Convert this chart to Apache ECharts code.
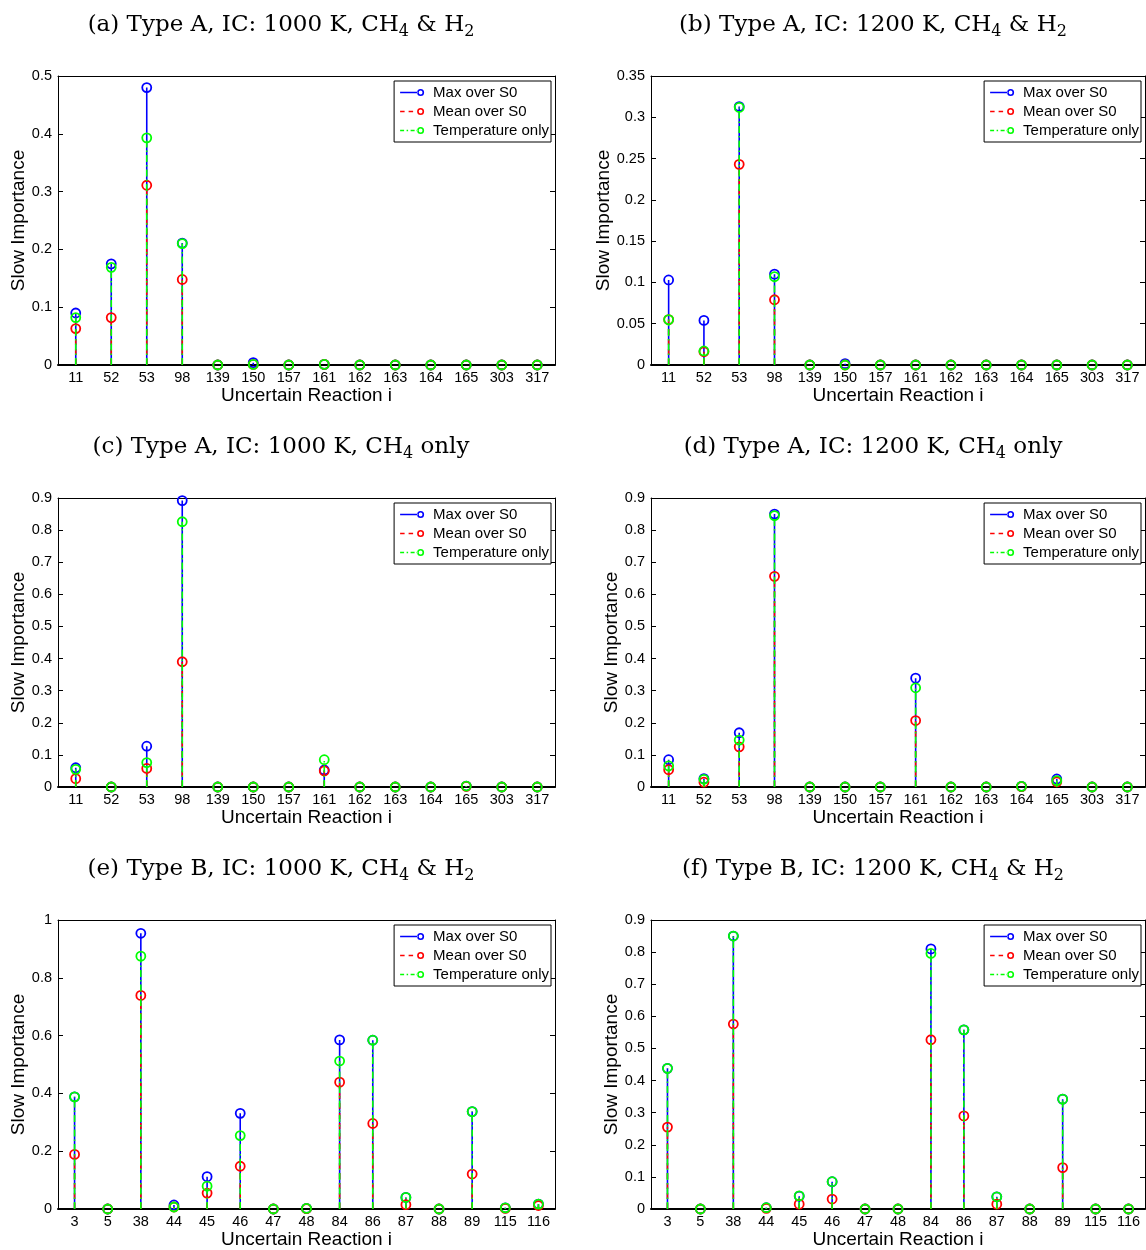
<!DOCTYPE html>
<html><head><meta charset="utf-8">
<script src="https://cdn.jsdelivr.net/npm/echarts@6/dist/echarts.min.js"></script>
<style>html,body{margin:0;padding:0;background:#fff}#c{width:1146px;height:1250px}</style>
</head><body><div id="c"></div><script>
// ---- categories ----
const catsA = ['11','52','53','98','139','150','157','161','162','163','164','165','303','317'];
const catsB = ['3','5','38','44','45','46','47','48','84','86','87','88','89','115','116'];

// ---- series values ----
// (a) Type A, 1000 K, CH4 & H2
const aMax  = [0.090,0.175,0.480,0.211,0,0.004,0,0.001,0,0,0,0,0,0];
const aMean = [0.063,0.082,0.311,0.148,0,0.001,0,0.001,0,0,0,0,0,0];
const aTemp = [0.082,0.169,0.393,0.210,0,0.001,0,0.001,0,0,0,0,0,0];
// (b) Type A, 1200 K, CH4 & H2
const bMax  = [0.103,0.054,0.313,0.110,0,0.0016,0,0,0,0,0,0,0,0];
const bMean = [0.055,0.016,0.243,0.079,0,0,0,0,0,0,0,0,0,0];
const bTemp = [0.055,0.017,0.312,0.107,0,0,0,0,0,0,0,0,0,0];
// (c) Type A, 1000 K, CH4 only
const cMax  = [0.060,0,0.127,0.892,0,0,0,0.053,0,0,0,0.003,0,0];
const cMean = [0.026,0,0.058,0.390,0,0,0,0.050,0,0,0,0.002,0,0];
const cTemp = [0.055,0,0.076,0.826,0,0,0,0.085,0,0,0,0.003,0,0];
// (d) Type A, 1200 K, CH4 only
const dMax  = [0.085,0.026,0.169,0.850,0,0,0,0.339,0,0,0.002,0.025,0,0];
const dMean = [0.054,0.015,0.125,0.656,0,0,0,0.207,0,0,0.001,0.016,0,0];
const dTemp = [0.066,0.024,0.146,0.845,0,0,0,0.309,0,0,0.002,0.020,0,0];
// (e) Type B, 1000 K, CH4 & H2
const eMax  = [0.388,0,0.954,0.014,0.112,0.331,0,0.002,0.585,0.584,0.040,0,0.337,0.004,0.017];
const eMean = [0.189,0,0.739,0.007,0.055,0.148,0,0.001,0.439,0.296,0.015,0,0.121,0.002,0.012];
const eTemp = [0.388,0,0.875,0.007,0.079,0.254,0,0.002,0.512,0.584,0.040,0,0.337,0.004,0.017];
// (f) Type B, 1200 K, CH4 & H2
const fMax  = [0.438,0,0.850,0.004,0.040,0.085,0,0,0.810,0.558,0.038,0,0.342,0,0];
const fMean = [0.255,0,0.576,0.002,0.015,0.031,0,0,0.527,0.290,0.015,0,0.129,0,0];
const fTemp = [0.438,0,0.850,0.004,0.041,0.085,0,0,0.796,0.558,0.038,0,0.342,0,0];

// ---- axis ranges ----
const yMaxes = [0.5, 0.35, 0.9, 0.9, 1.0, 0.9];
const yIntervals = [0.1, 0.05, 0.1, 0.1, 0.2, 0.1];

const titles = [
  '(a) Type A, IC: 1000 K, CH{s|4} & H{s|2}',
  '(b) Type A, IC: 1200 K, CH{s|4} & H{s|2}',
  '(c) Type A, IC: 1000 K, CH{s|4} only',
  '(d) Type A, IC: 1200 K, CH{s|4} only',
  '(e) Type B, IC: 1000 K, CH{s|4} & H{s|2}',
  '(f) Type B, IC: 1200 K, CH{s|4} & H{s|2}'
];
const seriesNames = ['Max over S0','Mean over S0','Temperature only'];

const panels = [
  {cats: catsA, vals: [aMax,aMean,aTemp]},
  {cats: catsA, vals: [bMax,bMean,bTemp]},
  {cats: catsA, vals: [cMax,cMean,cTemp]},
  {cats: catsA, vals: [dMax,dMean,dTemp]},
  {cats: catsB, vals: [eMax,eMean,eTemp]},
  {cats: catsB, vals: [fMax,fMean,fTemp]}
];

// ---- layout / style ----
const colors = ['#0000ff','#ff0000','#00ff00'];
const dashes = ['solid',[6,4],[7,3,1.5,3]];
const colLeft = [58, 651];
const colWidth = [497, 494];
const rowTop = [76, 498, 920];
const plotH = 289;
const titleX = [281, 873];
const titleY = [25, 447, 869];
const sans = 'Liberation Sans';

// legend icons (MATLAB-like: line sample with hollow marker at its end), 24 x 7 box
const ring = 'M24 3.5A3.5 3.5 0 1 0 17 3.5A3.5 3.5 0 1 0 24 3.5Z M22.4 3.5A1.9 1.9 0 1 1 18.6 3.5A1.9 1.9 0 1 1 22.4 3.5Z';
function seg(a,b){ return 'M'+a+' 2.7L'+b+' 2.7L'+b+' 4.3L'+a+' 4.3Z '; }
const icons = [
  'path://' + seg(0,17.5) + ring,
  'path://' + seg(0,4.5) + seg(8.5,13) + ring,
  'path://' + seg(0,4) + seg(6.5,8) + seg(10.5,14.5) + seg(16.5,17.5) + ring
];

function stemData(vals){
  const d = [];
  vals.forEach((v,i)=>{
    d.push({value:[i,0], symbol:'none'});
    d.push([i,v]);
    d.push([i,'-']);
  });
  return d;
}

const grid=[], xAxis=[], yAxis=[], series=[], legend=[], graphic=[];
panels.forEach((p,k)=>{
  const col = k%2, row = Math.floor(k/2);
  const L = colLeft[col], T = rowTop[row], W = colWidth[col];
  grid.push({left:L, top:T, width:W, height:plotH, containLabel:false});
  const common = {
    type:'category', gridIndex:k, data:p.cats, boundaryGap:true,
    axisLine:{onZero:false, lineStyle:{color:'#000', width:1}},
    axisTick:{inside:true, alignWithLabel:true, length:5, lineStyle:{color:'#000'}},
    splitLine:{show:false}
  };
  xAxis.push(Object.assign({}, common, {
    position:'bottom',
    axisLine:{onZero:false, lineStyle:{color:'#000', width:2}},
    axisLabel:{color:'#000', fontSize:14.5, fontFamily:sans, margin:5, interval:0},
    name:'Uncertain Reaction i', nameLocation:'middle', nameGap:19,
    nameTextStyle:{color:'#000', fontSize:19, fontFamily:sans}
  }));
  xAxis.push(Object.assign({}, common, {position:'top', axisLabel:{show:false}}));
  const yc = {
    type:'value', gridIndex:k, min:0, max:yMaxes[k], interval:yIntervals[k],
    axisLine:{show:true, onZero:false, lineStyle:{color:'#000', width:1}},
    axisTick:{show:true, inside:true, length:5, lineStyle:{color:'#000'}},
    splitLine:{show:false}
  };
  yAxis.push(Object.assign({}, yc, {
    position:'left',
    axisLabel:{color:'#000', fontSize:14.5, fontFamily:sans, margin:6},
    name:'Slow Importance', nameLocation:'middle', nameGap:29, nameRotate:90,
    nameTextStyle:{color:'#000', fontSize:19, fontFamily:sans}
  }));
  yAxis.push(Object.assign({}, yc, {position:'right', axisLabel:{show:false}}));

  p.vals.forEach((vals,s)=>{
    series.push({
      type:'line', name:seriesNames[s], xAxisIndex:2*k, yAxisIndex:2*k,
      data: stemData(vals), symbol:'circle', symbolSize:9, showSymbol:true, showAllSymbol:true,
      connectNulls:false, clip:false, animation:false, silent:true, z:2+s,
      itemStyle:{color:'rgba(255,255,255,0)', borderColor:colors[s], borderWidth:1.8},
      lineStyle:{color:colors[s], width:1.6, type:dashes[s]},
      emphasis:{disabled:true}
    });
  });

  legend.push({
    data: seriesNames.map((n,s)=>({name:n, icon:icons[s], itemStyle:{color:colors[s], borderWidth:0}})),
    orient:'vertical', selectedMode:false,
    right: 1146 - (L + W) + 4, top: T + 5,
    backgroundColor:'#fff', borderColor:'#000', borderWidth:1,
    padding:[4,2,4,6], itemGap:4, itemWidth:24, itemHeight:7,
    textStyle:{color:'#000', fontSize:15, fontFamily:sans, padding:[0,0,0,4]}, z:10
  });

  graphic.push({
    type:'text', x:titleX[col], y:titleY[row], silent:true,
    style:{
      text: titles[k], fill:'#000', fontSize:23, fontFamily:'DejaVu Serif',
      align:'center', verticalAlign:'middle',
      rich:{s:{fontSize:16, fontFamily:'DejaVu Serif', fill:'#000', padding:[13,0,0,0]}}
    }
  });
});

const chart = echarts.init(document.getElementById('c'), null, {renderer:'canvas'});
chart.setOption({animation:false, backgroundColor:'#fff', grid, xAxis, yAxis, series, legend, graphic});
</script></body></html>
